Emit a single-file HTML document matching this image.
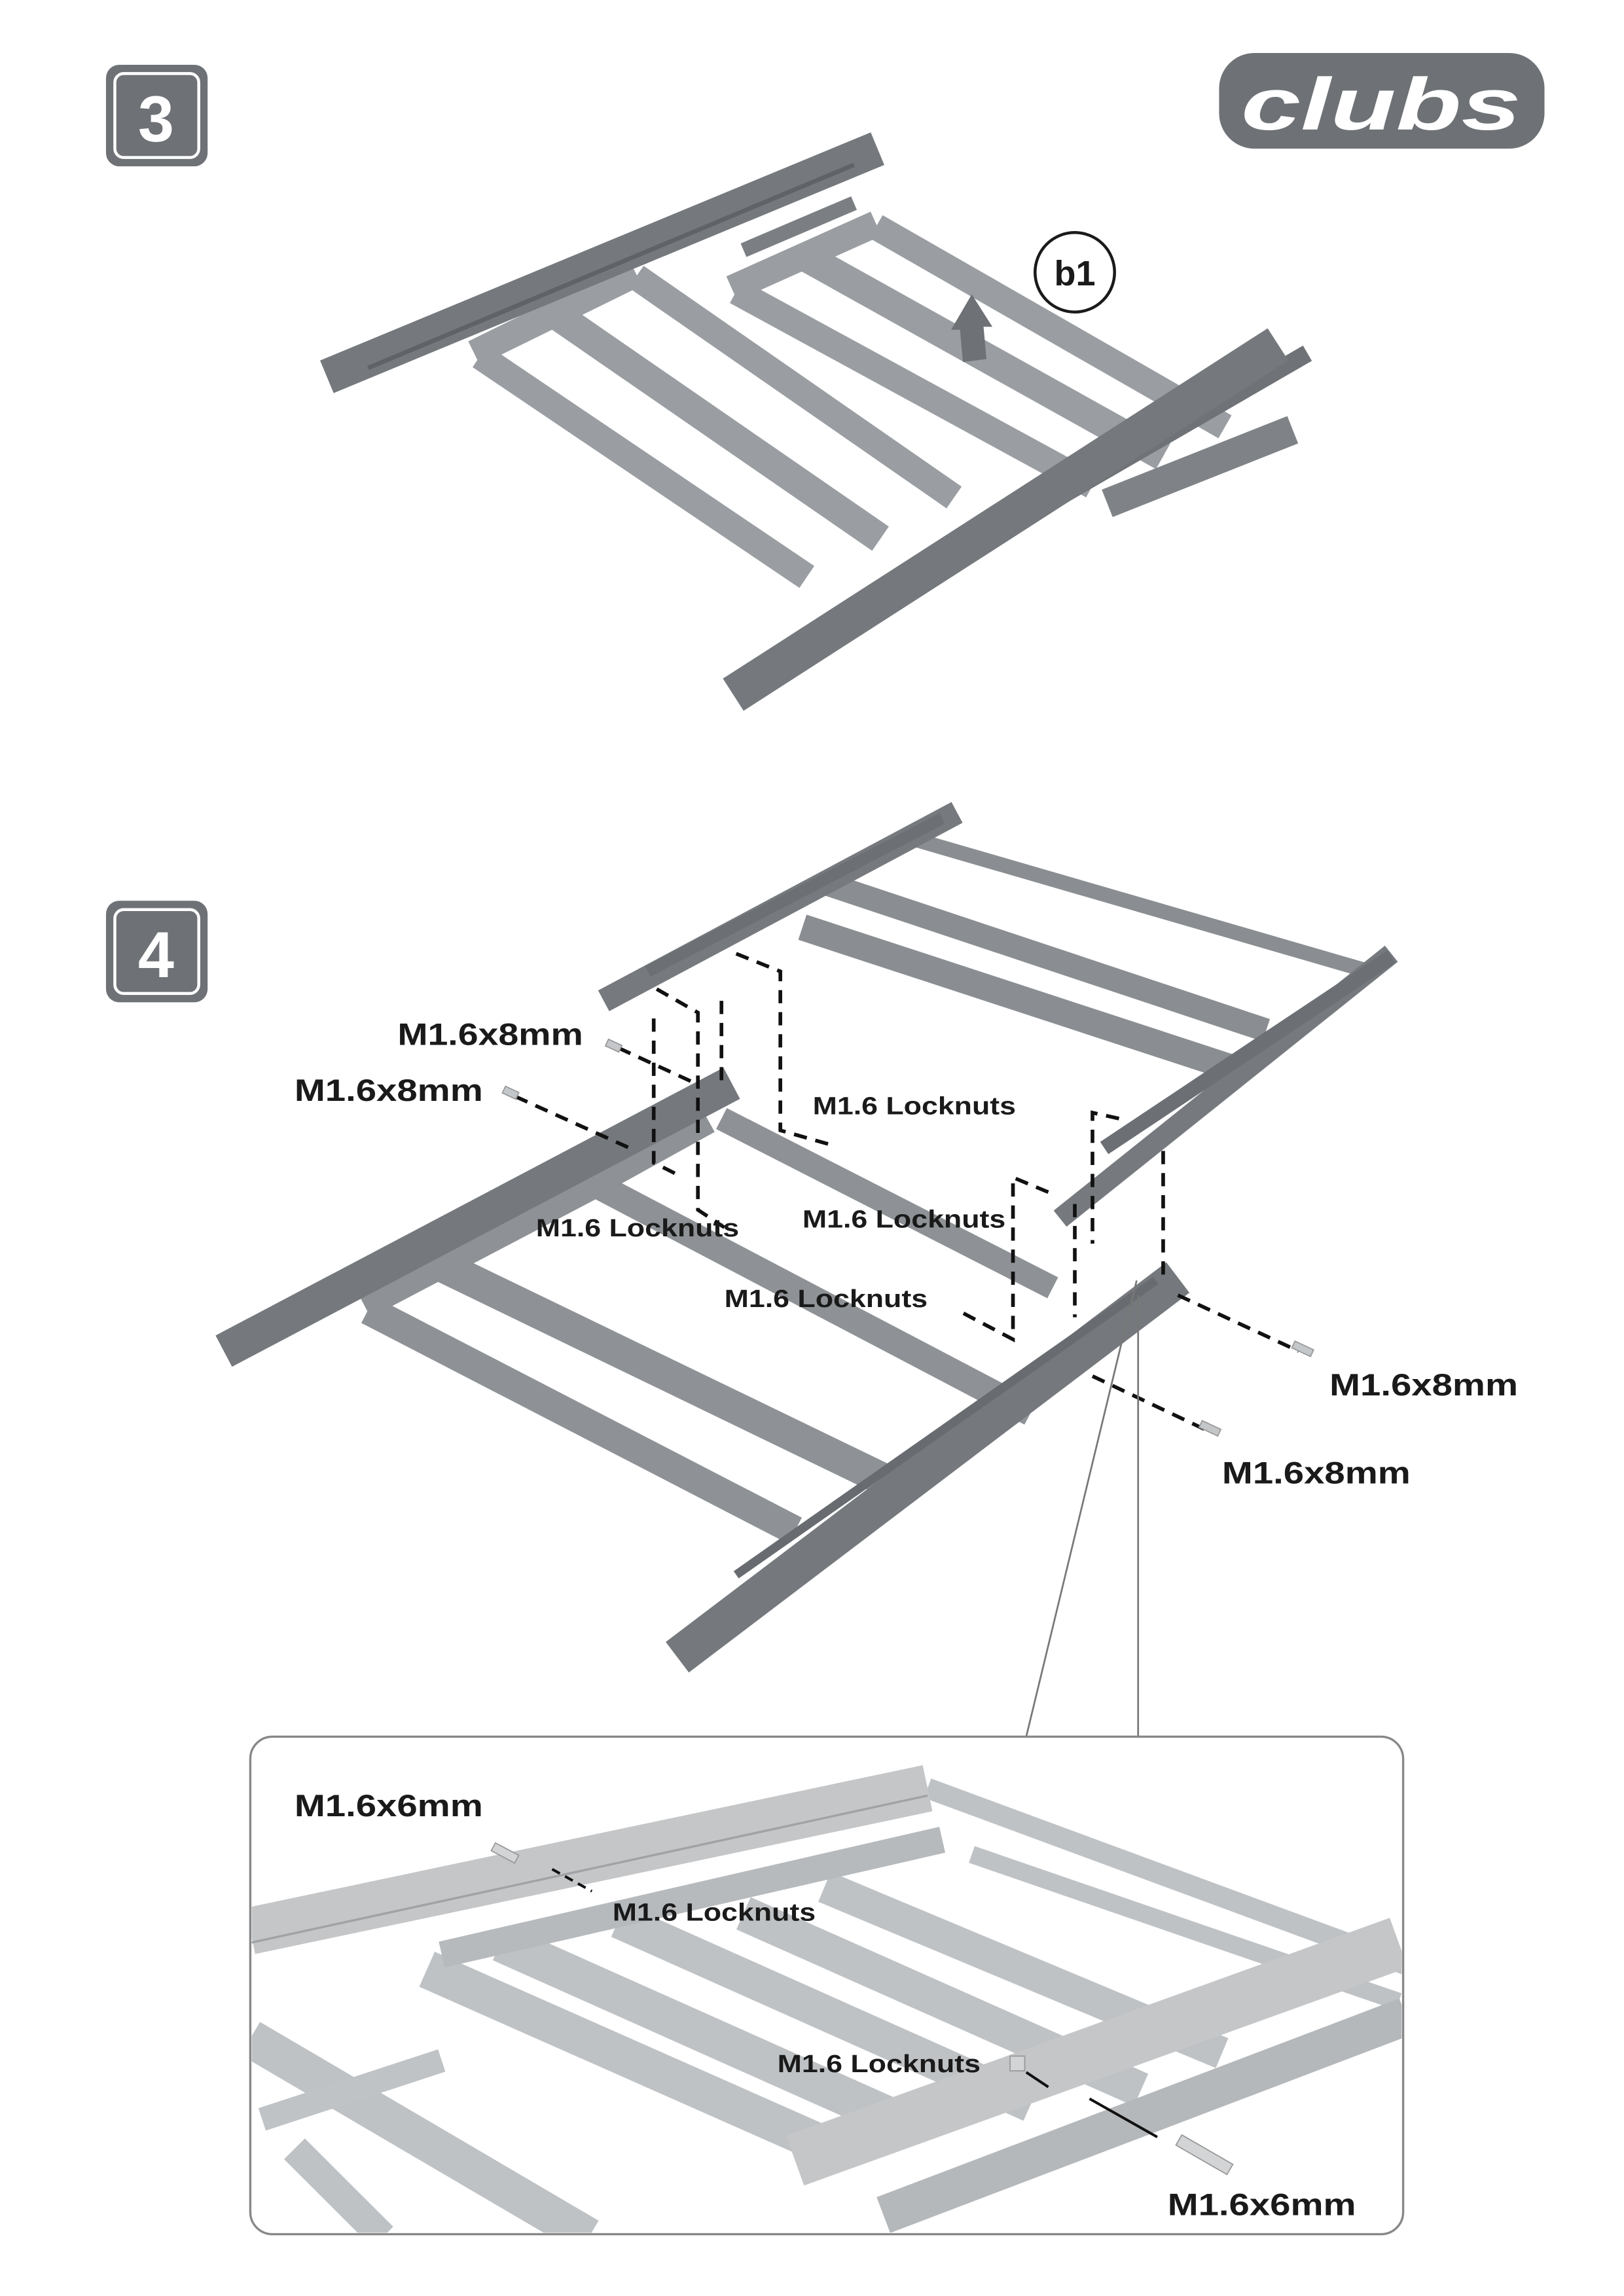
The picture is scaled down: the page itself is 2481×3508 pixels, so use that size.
<!DOCTYPE html>
<html><head><meta charset="utf-8"><style>
html,body{margin:0;padding:0;background:#fff;}
svg{display:block;}
text{font-family:"Liberation Sans",sans-serif;font-weight:bold;fill:#1a1a1a;}
</style></head><body>
<svg width="2481" height="3508" viewBox="0 0 1103 1560" preserveAspectRatio="none" xmlns="http://www.w3.org/2000/svg">
<rect width="1103" height="1560" fill="#fff"/>
<rect x="72" y="44" width="69" height="69" rx="9" fill="#6e7175"/>
<rect x="78" y="50" width="57" height="57" rx="6" fill="none" stroke="#fff" stroke-width="2"/>
<text x="106" y="96" font-size="44" text-anchor="middle" style="fill:#fff">3</text>
<rect x="72" y="612" width="69" height="69" rx="9" fill="#6e7175"/>
<rect x="78" y="618" width="57" height="57" rx="6" fill="none" stroke="#fff" stroke-width="2"/>
<text x="106" y="664" font-size="44" text-anchor="middle" style="fill:#fff">4</text>
<rect x="828" y="36" width="221" height="65" rx="24" fill="#6e7175"/>
<text x="938" y="88" font-size="50" text-anchor="middle" font-style="italic" textLength="190" lengthAdjust="spacingAndGlyphs" style="fill:#fff">clubs</text>

<!-- STEP 3 -->
<g stroke-linecap="butt" fill="none">
 <g stroke="#9a9ea2">
  <line x1="322" y1="240" x2="432" y2="186" stroke-width="18"/>
  <line x1="326" y1="242" x2="548" y2="392" stroke-width="18"/>
  <line x1="378" y1="214" x2="598" y2="366" stroke-width="20"/>
  <line x1="432" y1="188" x2="648" y2="338" stroke-width="18"/>
 </g>
 <g stroke="#9a9ea2">
  <line x1="497" y1="196" x2="595" y2="152" stroke-width="18"/>
  <line x1="500" y1="198" x2="742" y2="330" stroke-width="18"/>
  <line x1="548" y1="175" x2="790" y2="310" stroke-width="20"/>
  <line x1="595" y1="154" x2="832" y2="290" stroke-width="18"/>
 </g>
 <line x1="505" y1="170" x2="580" y2="138" stroke="#7b7f83" stroke-width="10"/>
 <line x1="222" y1="256" x2="596" y2="101" stroke="#75797d" stroke-width="24"/>
 <line x1="250" y1="250" x2="580" y2="112" stroke="#5f6367" stroke-width="3"/>
 <line x1="752" y1="342" x2="878" y2="292" stroke="#7f8387" stroke-width="20"/>
 <line x1="560" y1="430" x2="888" y2="240" stroke="#6f7377" stroke-width="12"/>
 <line x1="498" y1="472" x2="868" y2="234" stroke="#75797d" stroke-width="26"/>
</g>
<polygon points="660,200 674,222 668,222 670,244 654,246 652,224 646,224" fill="#6e7175"/>
<circle cx="730" cy="185" r="27" fill="#fff" stroke="#1a1a1a" stroke-width="2"/>
<text x="730" y="194" font-size="24" text-anchor="middle">b1</text>

<!-- STEP 4 upper -->
<g fill="none">
 <g stroke="#8a8e92">
  <line x1="545" y1="630" x2="835" y2="725" stroke-width="18"/>
  <line x1="560" y1="600" x2="860" y2="700" stroke-width="16"/>
  <line x1="620" y1="570" x2="930" y2="660" stroke-width="10"/>
 </g>
 <line x1="410" y1="680" x2="650" y2="552" stroke="#767a7e" stroke-width="16"/>
 <line x1="440" y1="660" x2="640" y2="556" stroke="#6c7074" stroke-width="8"/>
 <line x1="720" y1="828" x2="945" y2="648" stroke="#767a7e" stroke-width="14"/>
 <line x1="750" y1="780" x2="945" y2="650" stroke="#6c7074" stroke-width="10"/>
</g>
<!-- STEP 4 lower -->
<g fill="none">
 <g stroke="#8e9296">
  <line x1="248" y1="888" x2="408" y2="804" stroke-width="16"/>
  <line x1="250" y1="890" x2="540" y2="1040" stroke-width="20"/>
  <line x1="300" y1="860" x2="610" y2="1010" stroke-width="22"/>
  <line x1="405" y1="805" x2="700" y2="960" stroke-width="18"/>
  <line x1="490" y1="760" x2="715" y2="875" stroke-width="16"/>
  <line x1="482" y1="763" x2="408" y2="804" stroke-width="14"/>
 </g>
 <line x1="152" y1="918" x2="497" y2="736" stroke="#75797d" stroke-width="24"/>
 <line x1="460" y1="1126" x2="800" y2="868" stroke="#75797d" stroke-width="26"/>
 <line x1="500" y1="1070" x2="785" y2="870" stroke="#686c70" stroke-width="6"/>
</g>
<g fill="none" stroke="#111" stroke-width="2.5" stroke-dasharray="9,6">
 <path d="M446,672 L474,688 L474,822 L492,834"/>
 <path d="M444,692 L444,790 L460,798"/>
 <path d="M500,648 L530,660 L530,768 L565,778"/>
 <path d="M490,680 L490,740"/>
 <path d="M712,810 L688,800 L688,910 L650,890"/>
 <path d="M760,760 L742,756 L742,845"/>
 <path d="M790,782 L790,870"/>
 <path d="M730,818 L730,895"/>
 <path d="M350,745 L432,782"/>
 <path d="M420,712 L470,735"/>
 <path d="M800,880 L882,918"/>
 <path d="M742,935 L820,972"/>
</g>
<g fill="#c4c7ca" stroke="#999" stroke-width="0.8">
 <rect x="342" y="740" width="10" height="5" transform="rotate(25 347 742)"/>
 <rect x="412" y="708" width="10" height="5" transform="rotate(25 417 710)"/>
 <rect x="878" y="914" width="14" height="5" transform="rotate(25 885 916)"/>
 <rect x="815" y="968" width="14" height="5" transform="rotate(25 822 970)"/>
</g>
<line x1="772" y1="870" x2="697" y2="1180" stroke="#777" stroke-width="1.2"/>
<line x1="773" y1="880" x2="773" y2="1180" stroke="#777" stroke-width="1.2"/>

<text x="270" y="710" font-size="21" textLength="126" lengthAdjust="spacingAndGlyphs">M1.6x8mm</text>
<text x="200" y="748" font-size="21" textLength="128" lengthAdjust="spacingAndGlyphs">M1.6x8mm</text>
<text x="552" y="757" font-size="17" textLength="138" lengthAdjust="spacingAndGlyphs">M1.6 Locknuts</text>
<text x="364" y="840" font-size="17" textLength="138" lengthAdjust="spacingAndGlyphs">M1.6 Locknuts</text>
<text x="545" y="834" font-size="17" textLength="138" lengthAdjust="spacingAndGlyphs">M1.6 Locknuts</text>
<text x="492" y="888" font-size="17" textLength="138" lengthAdjust="spacingAndGlyphs">M1.6 Locknuts</text>
<text x="903" y="948" font-size="21" textLength="128" lengthAdjust="spacingAndGlyphs">M1.6x8mm</text>
<text x="830" y="1008" font-size="21" textLength="128" lengthAdjust="spacingAndGlyphs">M1.6x8mm</text>

<defs><clipPath id="ic"><rect x="171" y="1181" width="781" height="336" rx="14"/></clipPath></defs>
<rect x="170" y="1180" width="783" height="338" rx="15" fill="#fff"/>
<g clip-path="url(#ic)" fill="none">
 <g stroke="#bfc2c5">
  <line x1="630" y1="1215" x2="955" y2="1335" stroke-width="14"/>
  <line x1="660" y1="1260" x2="950" y2="1360" stroke-width="12"/>
  <line x1="170" y1="1385" x2="400" y2="1520" stroke-width="26"/>
  <line x1="290" y1="1338" x2="570" y2="1462" stroke-width="26"/>
  <line x1="340" y1="1320" x2="620" y2="1445" stroke-width="26"/>
  <line x1="420" y1="1305" x2="700" y2="1430" stroke-width="24"/>
  <line x1="505" y1="1300" x2="775" y2="1420" stroke-width="24"/>
  <line x1="560" y1="1282" x2="830" y2="1395" stroke-width="22"/>
  <line x1="200" y1="1460" x2="260" y2="1520" stroke-width="20"/>
 </g>
 <line x1="170" y1="1312" x2="630" y2="1215" stroke="#c4c6c8" stroke-width="32"/>
 <line x1="300" y1="1328" x2="640" y2="1250" stroke="#b7babd" stroke-width="18"/>
 <line x1="178" y1="1440" x2="300" y2="1400" stroke="#c0c3c6" stroke-width="16"/>
 <line x1="540" y1="1468" x2="950" y2="1320" stroke="#c4c6c8" stroke-width="36"/>
 <line x1="600" y1="1505" x2="955" y2="1370" stroke="#b5b8bb" stroke-width="26"/>
 <line x1="170" y1="1320" x2="630" y2="1220" stroke="#a0a3a6" stroke-width="1.5"/>
</g>
<rect x="170" y="1180" width="783" height="338" rx="15" fill="none" stroke="#888" stroke-width="1.5"/>
<g stroke="#111" stroke-width="1.8" fill="none">
 <path d="M375,1270 L402,1285" stroke-dasharray="6,4"/>
 <path d="M697,1408 L712,1418"/>
 <path d="M740,1426 L786,1452"/>
</g>
<rect x="334" y="1256" width="18" height="6" fill="#d2d4d6" stroke="#999" stroke-width="0.8" transform="rotate(28 343 1259)"/>
<rect x="686" y="1397" width="10" height="10" fill="#d2d4d6" stroke="#999" stroke-width="0.8"/>
<rect x="798" y="1460" width="40" height="8" fill="#d2d4d6" stroke="#999" stroke-width="0.8" transform="rotate(30 818 1464)"/>
<text x="200" y="1234" font-size="21" textLength="128" lengthAdjust="spacingAndGlyphs">M1.6x6mm</text>
<text x="416" y="1305" font-size="17" textLength="138" lengthAdjust="spacingAndGlyphs">M1.6 Locknuts</text>
<text x="528" y="1408" font-size="17" textLength="138" lengthAdjust="spacingAndGlyphs">M1.6 Locknuts</text>
<text x="793" y="1505" font-size="21" textLength="128" lengthAdjust="spacingAndGlyphs">M1.6x6mm</text>
</svg>
</body></html>
